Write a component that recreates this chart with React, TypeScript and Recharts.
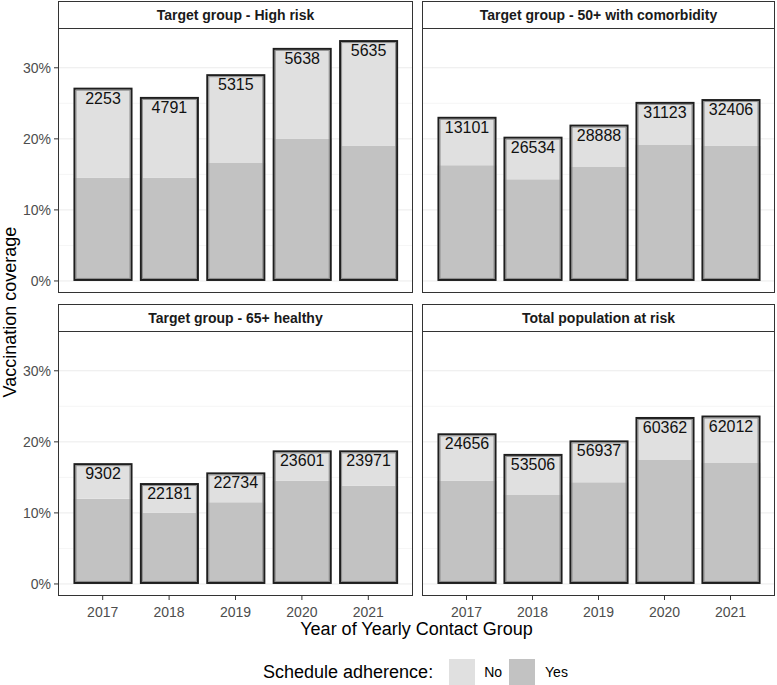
import React from "react";
import {
  BarChart,
  Bar,
  XAxis,
  YAxis,
  CartesianGrid,
  LabelList,
} from "recharts";

const years = ["2017", "2018", "2019", "2020", "2021"];

const highRiskTotal = [27.2, 25.9, 29.1, 32.8, 33.9];
const highRiskYes = [14.5, 14.5, 16.6, 20.0, 19.0];
const highRiskN = [2253, 4791, 5315, 5638, 5635];

const comorbTotal = [23.1, 20.3, 22.0, 25.2, 25.6];
const comorbYes = [16.3, 14.3, 16.1, 19.2, 19.0];
const comorbN = [13101, 26534, 28888, 31123, 32406];

const healthyTotal = [17.0, 14.2, 15.7, 18.8, 18.8];
const healthyYes = [12.0, 10.0, 11.5, 14.5, 13.8];
const healthyN = [9302, 22181, 22734, 23601, 23971];

const popTotal = [21.2, 18.3, 20.2, 23.5, 23.7];
const popYes = [14.5, 12.6, 14.3, 17.5, 17.1];
const popN = [24656, 53506, 56937, 60362, 62012];

const yTicks = [0, 10, 20, 30];
const minorTicks = [5, 15, 25];

const FONT = '"Liberation Sans", Arial, Helvetica, sans-serif';
const YES_FILL = "#C2C2C2";
const NO_FILL = "#E0E0E0";

function buildRows(total: number[], yes: number[], n: number[]) {
  return years.map((year, i) => ({
    year,
    yes: yes[i],
    no: +(total[i] - yes[i]).toFixed(2),
    n: n[i],
  }));
}

// top segment also draws the outline around the whole stacked bar
const OutlinedTop = (props: any) => {
  const { x, y, width, height, payload } = props;
  const unit = payload.no > 0 ? height / payload.no : 0;
  const full = height + payload.yes * unit;
  return (
    <g>
      <rect x={x} y={y} width={width} height={height} fill={NO_FILL} />
      <rect
        x={x + 1}
        y={y + 1}
        width={width - 2}
        height={full - 2}
        fill="none"
        stroke="#1E1E1E"
        strokeWidth={2}
      />
      <rect
        x={x + 2.5}
        y={y + 2.5}
        width={width - 5}
        height={full - 5}
        fill="none"
        stroke="#8C8C8C"
        strokeWidth={1}
      />
    </g>
  );
};

const CountLabel = (props: any) => {
  const { x, y, width, value } = props;
  return (
    <text
      x={x + width / 2}
      y={y + 16}
      textAnchor="middle"
      fontSize={16}
      fontFamily={FONT}
      fill="#111"
    >
      {value}
    </text>
  );
};

type PanelProps = {
  title: string;
  rows: ReturnType<typeof buildRows>;
  left: number;
  top: number;
  plotWidth: number;
  showY: boolean;
  showX: boolean;
};

const PLOT_H = 265;
const STRIP_H = 28;
const Y_W = 58;
const X_H = 30;

function Panel({ title, rows, left, top, plotWidth, showY, showX }: PanelProps) {
  const plotLeft = showY ? left + Y_W : left;
  const chartW = showY ? plotWidth + Y_W : plotWidth;
  const chartH = showX ? PLOT_H + X_H : PLOT_H;
  return (
    <>
      <div
        style={{
          position: "absolute",
          left: plotLeft,
          top: top - STRIP_H + 1,
          width: plotWidth,
          height: STRIP_H,
          boxSizing: "border-box",
          border: "1px solid #333",
          background: "#fff",
          display: "flex",
          alignItems: "center",
          justifyContent: "center",
          fontFamily: FONT,
          fontWeight: "bold",
          fontSize: 14,
          color: "#1A1A1A",
        }}
      >
        {title}
      </div>
      <div style={{ position: "absolute", left, top }}>
        <BarChart
          width={chartW}
          height={chartH}
          data={rows}
          margin={{ top: 0, right: 0, bottom: 0, left: 0 }}
          barSize={59}
        >
          <CartesianGrid
            vertical={false}
            horizontalValues={minorTicks}
            stroke="#F3F3F3"
            strokeWidth={0.8}
          />
          <CartesianGrid
            vertical={false}
            horizontalValues={yTicks}
            stroke="#EBEBEB"
            strokeWidth={1}
          />
          <XAxis
            dataKey="year"
            hide={!showX}
            height={X_H}
            padding={{ left: 11.5, right: 11.5 }}
            axisLine={false}
            tickLine={{ stroke: "#333" }}
            tickSize={4}
            tickMargin={7}
            tick={{ fill: "#4D4D4D", fontSize: 14, fontFamily: FONT }}
          />
          <YAxis
            hide={!showY}
            width={Y_W}
            domain={[-1.695, 35.6]}
            allowDataOverflow
            ticks={yTicks}
            tickFormatter={(v: number) => `${v}%`}
            axisLine={false}
            tickLine={{ stroke: "#333" }}
            tickSize={4}
            tickMargin={3}
            tick={{ fill: "#4D4D4D", fontSize: 14, fontFamily: FONT }}
          />
          <Bar dataKey="yes" stackId="a" fill={YES_FILL} isAnimationActive={false} />
          <Bar
            dataKey="no"
            stackId="a"
            fill={NO_FILL}
            shape={OutlinedTop}
            isAnimationActive={false}
          >
            <LabelList dataKey="n" content={CountLabel} />
          </Bar>
        </BarChart>
      </div>
      <div
        style={{
          position: "absolute",
          left: plotLeft,
          top,
          width: plotWidth,
          height: PLOT_H,
          boxSizing: "border-box",
          border: "1px solid #333",
          pointerEvents: "none",
        }}
      />
    </>
  );
}

export default function App() {
  return (
    <div
      style={{
        position: "absolute",
        left: 0,
        top: 0,
        width: 777,
        height: 685,
        background: "#fff",
        fontFamily: FONT,
        overflow: "hidden",
      }}
    >
      <Panel
        title="Target group - High risk"
        rows={buildRows(highRiskTotal, highRiskYes, highRiskN)}
        left={0}
        top={28}
        plotWidth={355}
        showY
        showX={false}
      />
      <Panel
        title="Target group - 50+ with comorbidity"
        rows={buildRows(comorbTotal, comorbYes, comorbN)}
        left={422}
        top={28}
        plotWidth={353}
        showY={false}
        showX={false}
      />
      <Panel
        title="Target group - 65+ healthy"
        rows={buildRows(healthyTotal, healthyYes, healthyN)}
        left={0}
        top={331}
        plotWidth={355}
        showY
        showX
      />
      <Panel
        title="Total population at risk"
        rows={buildRows(popTotal, popYes, popN)}
        left={422}
        top={331}
        plotWidth={353}
        showY={false}
        showX
      />

      {/* y axis title */}
      <div
        style={{
          position: "absolute",
          left: 10,
          top: 312,
          transform: "translate(-50%, -50%) rotate(-90deg)",
          whiteSpace: "nowrap",
          fontSize: 18,
          color: "#000",
        }}
      >
        Vaccination coverage
      </div>

      {/* x axis title */}
      <div
        style={{
          position: "absolute",
          left: 58,
          width: 717,
          top: 619,
          textAlign: "center",
          fontSize: 18,
          color: "#000",
        }}
      >
        Year of Yearly Contact Group
      </div>

      {/* legend */}
      <div
        style={{
          position: "absolute",
          left: 263,
          top: 659,
          height: 26,
          display: "flex",
          alignItems: "center",
          fontSize: 18,
          color: "#000",
        }}
      >
        <span style={{ marginRight: 16 }}>Schedule adherence:</span>
        <span style={{ width: 26, height: 26, background: NO_FILL }} />
        <span style={{ fontSize: 14, marginLeft: 9, marginRight: 7 }}>No</span>
        <span style={{ width: 26, height: 26, background: YES_FILL }} />
        <span style={{ fontSize: 14, marginLeft: 10 }}>Yes</span>
      </div>
    </div>
  );
}
